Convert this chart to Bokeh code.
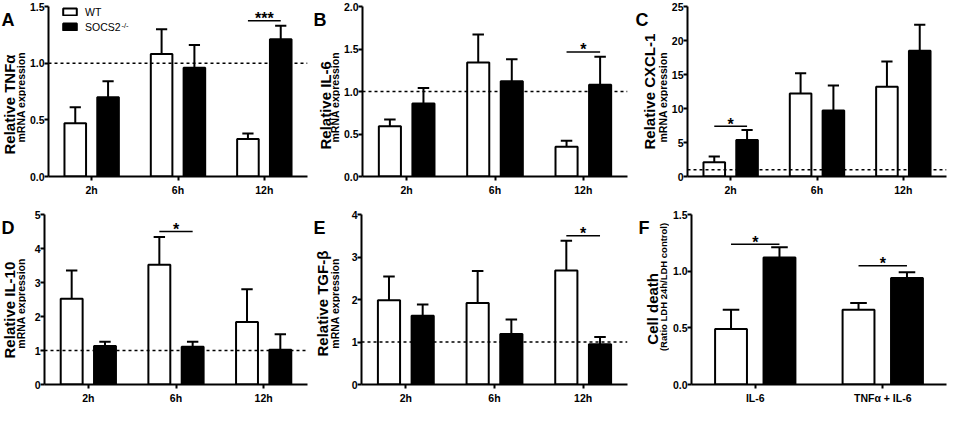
from bokeh.plotting import figure
from bokeh.models import (ColumnDataSource, FactorRange, Range1d, FixedTicker, Span,
                          Label, Legend, LegendItem, NumeralTickFormatter)
from bokeh.transform import dodge
from bokeh.layouts import row, column
from bokeh.embed import file_html
from bokeh.resources import INLINE
from bokeh.core.properties import value
import math

# ---------------- data ----------------
times = ["2h", "6h", "12h"]
treatments = ["IL-6", "TNFα + IL-6"]
groups = ["WT", "SOCS2"]

tnf_wt = [0.47, 1.08, 0.33]
tnf_wt_sem = [0.14, 0.22, 0.05]
tnf_ko = [0.70, 0.96, 1.21]
tnf_ko_sem = [0.14, 0.20, 0.12]
tnf_ticks = [0.0, 0.5, 1.0, 1.5]

il6_wt = [0.59, 1.34, 0.35]
il6_wt_sem = [0.08, 0.33, 0.07]
il6_ko = [0.86, 1.12, 1.08]
il6_ko_sem = [0.18, 0.26, 0.33]
il6_ticks = [0.0, 0.5, 1.0, 1.5, 2.0]

cxcl_wt = [2.1, 12.2, 13.2]
cxcl_wt_sem = [0.85, 3.0, 3.7]
cxcl_ko = [5.35, 9.7, 18.5]
cxcl_ko_sem = [1.5, 3.7, 3.8]
cxcl_ticks = [0, 5, 10, 15, 20, 25]

il10_wt = [2.52, 3.52, 1.84]
il10_wt_sem = [0.83, 0.82, 0.96]
il10_ko = [1.13, 1.11, 1.02]
il10_ko_sem = [0.13, 0.15, 0.46]
il10_ticks = [0, 1, 2, 3, 4, 5]

tgf_wt = [1.98, 1.92, 2.68]
tgf_wt_sem = [0.56, 0.75, 0.70]
tgf_ko = [1.62, 1.19, 0.95]
tgf_ko_sem = [0.26, 0.34, 0.17]
tgf_ticks = [0, 1, 2, 3, 4]

death_wt = [0.49, 0.66]
death_wt_sem = [0.17, 0.06]
death_ko = [1.12, 0.94]
death_ko_sem = [0.09, 0.05]
death_ticks = [0.0, 0.5, 1.0, 1.5]

sig_tnf = (["12h"], [1.375], ["***"])
sig_il6 = (["12h"], [1.465], ["*"])
sig_cxcl = (["2h"], [7.4], ["*"])
sig_il10 = (["6h"], [4.5], ["*"])
sig_tgf = (["12h"], [3.5], ["*"])
sig_death = (treatments, [1.238, 1.047], ["*", "*"])

FONT = "Liberation Sans"
OFF = 0.19
BW = 0.25
CAP = 0.065
ROT_SHIFT = 10   # rotated text renders slightly above its anchor; compensate


def label_fig(W, H, bt, bb, letter, lx, lby, t1, x1, y1, t2, x2, y2, fs2="10.5px"):
    """Narrow figure holding the panel letter and the two-line y title.
    Its frame has the same top/bottom borders as the plot beside it, and the
    ranges are set so that one data unit is one pixel measured from the
    figure's top-left corner."""
    f = figure(width=W, height=H, x_range=Range1d(0, W), y_range=Range1d(bb, H - bt),
               x_axis_type=None, y_axis_type=None, output_backend="svg",
               toolbar_location=None, min_border_left=0, min_border_right=0,
               min_border_top=bt, min_border_bottom=bb)
    f.outline_line_color = None
    f.xgrid.visible = False
    f.ygrid.visible = False
    f.text(x=[lx], y=[H - lby], text=[letter], text_font=value(FONT),
           text_font_style="bold", text_font_size="18px", text_align="left",
           text_baseline="alphabetic", text_color="black")
    f.text(x=[x1], y=[H - y1 - ROT_SHIFT], text=[t1], angle=math.pi / 2,
           text_font=value(FONT), text_font_style="bold", text_font_size="15px",
           text_align="left", text_baseline="middle", text_color="black")
    f.text(x=[x2], y=[H - y2 - ROT_SHIFT], text=[t2], angle=math.pi / 2,
           text_font=value(FONT), text_font_style="bold", text_font_size=fs2,
           text_align="left", text_baseline="middle", text_color="black")
    return f


def panel(cats, wt, wt_sem, ko, ko_sem, yticks, yfmt, sig, geom,
          ref_line=True, legend=False):
    W, H, bl, br, bt, bb = geom
    fh = H - bt - bb
    p = figure(width=W, height=H, x_range=FactorRange(*cats),
               y_range=Range1d(0, yticks[-1]), output_backend="svg",
               toolbar_location=None, min_border_left=bl, min_border_right=br,
               min_border_top=bt, min_border_bottom=bb)
    p.outline_line_color = None
    p.xgrid.visible = False
    p.ygrid.visible = False

    src = ColumnDataSource(dict(
        cat=cats, wt=wt, ko=ko,
        wt_top=[m + s for m, s in zip(wt, wt_sem)],
        ko_top=[m + s for m, s in zip(ko, ko_sem)]))

    lw = 2
    for key, off in (("wt", -OFF), ("ko", OFF)):
        p.segment(x0=dodge("cat", off, range=p.x_range), y0=key,
                  x1=dodge("cat", off, range=p.x_range), y1=key + "_top",
                  line_color="black", line_width=lw, source=src)
        p.segment(x0=dodge("cat", off - CAP, range=p.x_range), y0=key + "_top",
                  x1=dodge("cat", off + CAP, range=p.x_range), y1=key + "_top",
                  line_color="black", line_width=lw, source=src)
    r_wt = p.vbar(x=dodge("cat", -OFF, range=p.x_range), top="wt", width=BW,
                  fill_color="white", line_color="black", line_width=lw, source=src)
    r_ko = p.vbar(x=dodge("cat", OFF, range=p.x_range), top="ko", width=BW,
                  fill_color="black", line_color="black", line_width=lw, source=src)

    if ref_line:
        p.add_layout(Span(location=1, dimension="width", line_color="black",
                          line_dash="3 3", line_width=1.5))

    scats, sy, slab = sig
    ssrc = ColumnDataSource(dict(cat=list(scats), y=list(sy), lab=list(slab)))
    p.segment(x0=dodge("cat", -OFF, range=p.x_range), y0="y",
              x1=dodge("cat", OFF, range=p.x_range), y1="y",
              line_color="black", line_width=1.5, source=ssrc)
    p.text(x="cat", y="y", text="lab", source=ssrc, text_font=value(FONT),
           text_font_style="bold", text_font_size="16px", text_align="center",
           text_baseline="alphabetic", y_offset=-2, text_color="black")

    for ax in (p.xaxis[0], p.yaxis[0]):
        ax.axis_line_width = 2
        ax.axis_line_color = "black"
        ax.major_tick_line_width = 2
        ax.major_tick_line_color = "black"
        ax.major_tick_in = 0
        ax.major_tick_out = 4
        ax.minor_tick_line_color = None
        ax.major_label_text_font = FONT
        ax.major_label_text_font_style = "bold"
        ax.major_label_text_font_size = "10.5px"
        ax.major_label_text_color = "black"
    p.yaxis[0].ticker = FixedTicker(ticks=yticks)
    p.yaxis[0].formatter = NumeralTickFormatter(format=yfmt)
    p.yaxis[0].major_label_standoff = 0
    p.xaxis[0].major_label_standoff = 3

    if legend:
        lg = Legend(items=[LegendItem(label=groups[0], renderers=[r_wt]),
                           LegendItem(label=groups[1], renderers=[r_ko])],
                    location=(13, fh - 28), orientation="vertical",
                    padding=0, margin=0, spacing=0, glyph_width=17, glyph_height=9,
                    label_height=15, label_standoff=7, label_text_font=FONT,
                    label_text_font_size="10.5px", label_text_color="black",
                    border_line_color=None, background_fill_alpha=0)
        p.add_layout(lg)
        p.add_layout(Label(x=73, y=fh - 19, x_units="screen", y_units="screen",
                           text="-/-", text_font=FONT, text_font_size="7.5px",
                           text_baseline="alphabetic", text_color="black"))
    return p


TH, TT, TB = 198, 6, 22      # top row: height, top border, bottom border
BH, BT, BB = 208, 16, 19     # bottom row

tA = label_fig(26, TH, TT, TB, "A", 1, 19.5, "Relative TNFα", 9, 144, "mRNA expression", 20, 132)
pA = panel(times, tnf_wt, tnf_wt_sem, tnf_ko, tnf_ko_sem, tnf_ticks, "0.0", sig_tnf,
           (286, TH, 18, 5, TT, TB), legend=True)
tB = label_fig(28, TH, TT, TB, "B", 1, 19.5, "Relative IL-6", 13, 139, "mRNA expression", 22, 132)
pB = panel(times, il6_wt, il6_wt_sem, il6_ko, il6_ko_sem, il6_ticks, "0.0", sig_il6,
           (292, TH, 21, 5, TT, TB))
tC = label_fig(36, TH, TT, TB, "C", 3, 19.5, "Relative CXCL-1", 17, 139, "mRNA expression", 30, 132)
pC = panel(times, cxcl_wt, cxcl_wt_sem, cxcl_ko, cxcl_ko_sem, cxcl_ticks, "0", sig_cxcl,
           (279, TH, 19, 1, TT, TB))

tD = label_fig(26, BH, BT, BB, "D", 1, 30, "Relative IL-10", 9, 152.5, "mRNA expression", 20, 142.5)
pD = panel(times, il10_wt, il10_wt_sem, il10_ko, il10_ko_sem, il10_ticks, "0", sig_il10,
           (286, BH, 18, 5, BT, BB))
tE = label_fig(28, BH, BT, BB, "E", 1, 30, "Relative TGF-β", 10, 150.5, "mRNA expression", 22, 142.5)
pE = panel(times, tgf_wt, tgf_wt_sem, tgf_ko, tgf_ko_sem, tgf_ticks, "0", sig_tgf,
           (292, BH, 21, 5, BT, BB))
tF = label_fig(37, BH, BT, BB, "F", 6, 30, "Cell death", 20, 138.5,
               "(Ratio LDH 24h/LDH control)", 31, 145, fs2="9.5px")
pF = panel(treatments, death_wt, death_wt_sem, death_ko, death_ko_sem, death_ticks, "0.0",
           sig_death, (278, BH, 22, 1, BT, BB), ref_line=False)

layout = column(row(tA, pA, tB, pB, tC, pC), row(tD, pD, tE, pE, tF, pF))
open("out.html", "w").write(file_html(layout, INLINE))
